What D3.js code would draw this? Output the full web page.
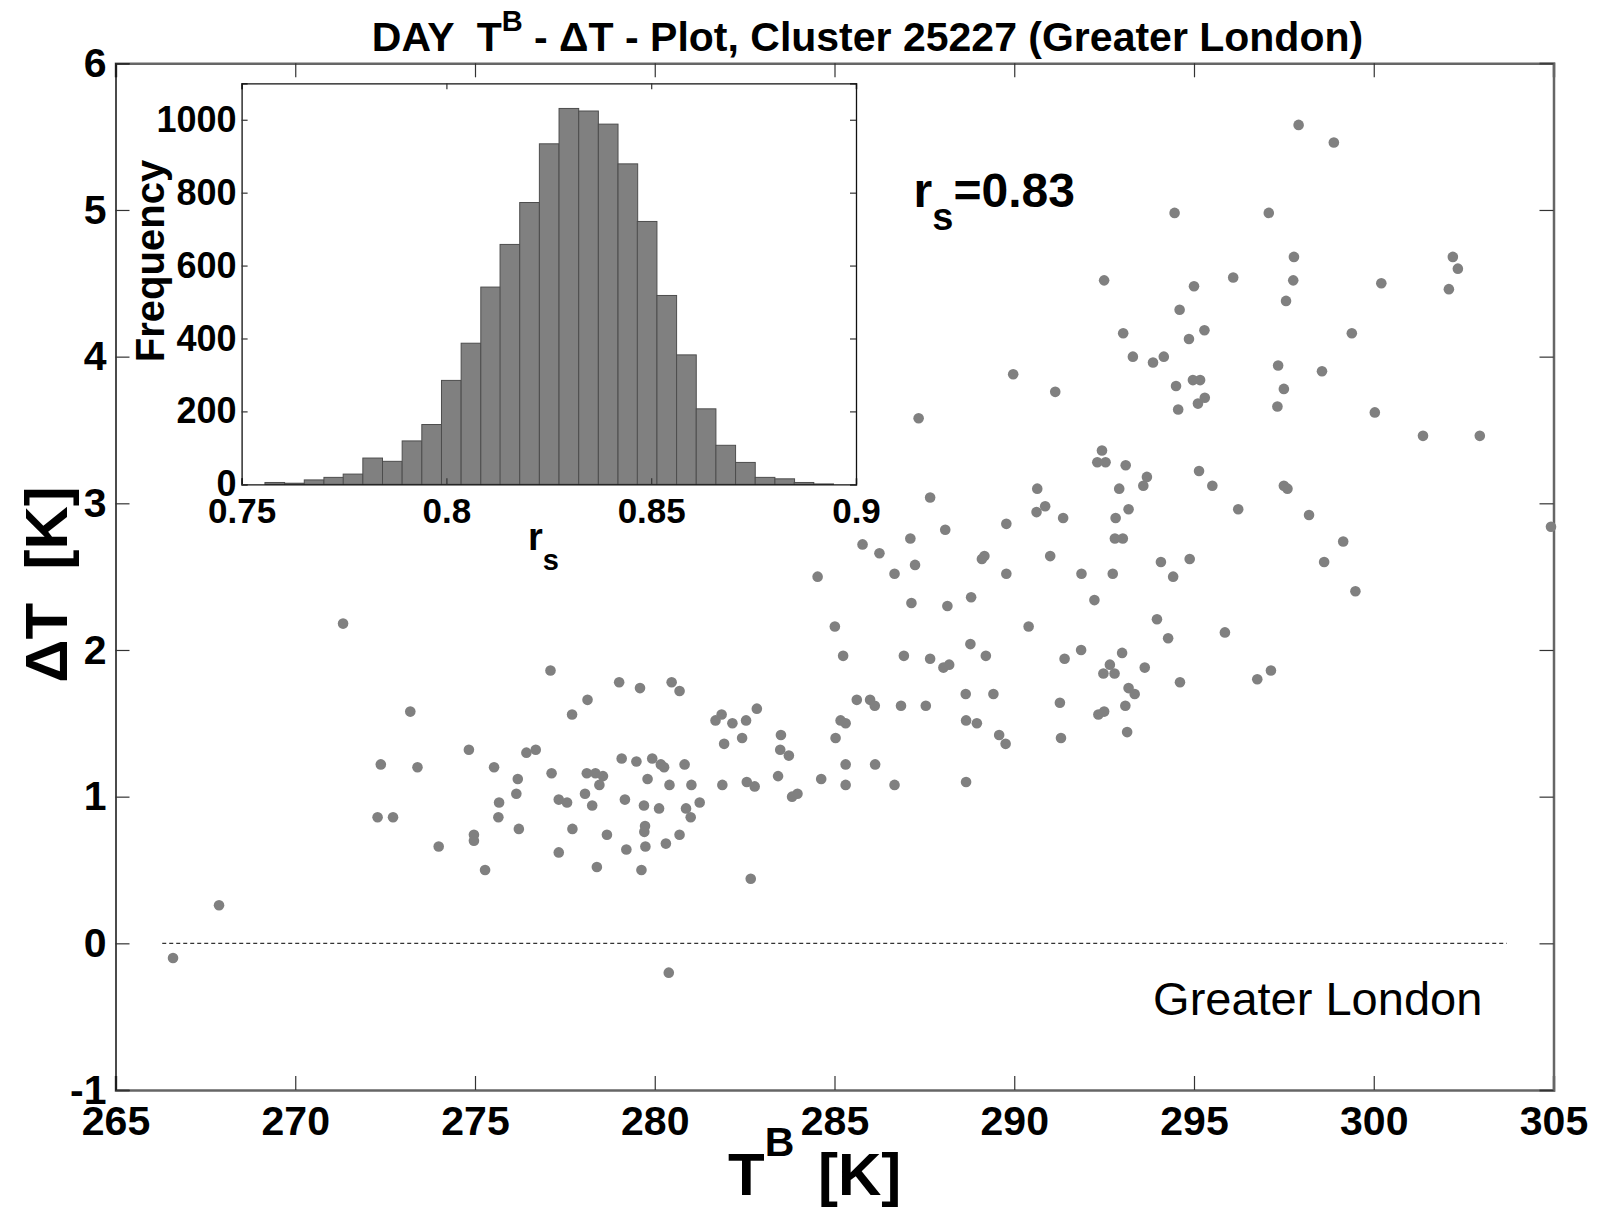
<!DOCTYPE html>
<html>
<head>
<meta charset="utf-8">
<script src="https://cdn.jsdelivr.net/npm/d3@7"></script>
<style>
    body { margin: 0; background: #fff; }
    svg { display: block; }
    text { white-space: pre; }
</style>
</head>
<body>
<div id="chart"></div>
<script>
///////////// DATA
// scatter: brightness temperature T^B [K] vs. delta T [K]
var tbValues = [
    271.33, 267.88, 266.60, 273.20, 272.38, 273.40, 272.29, 272.72, 273.99, 274.83,
    274.97, 274.97, 275.28, 275.53, 275.67, 275.65, 276.19, 276.15, 276.22, 276.43,
    276.69, 277.10, 277.13, 277.33, 277.56, 277.71, 277.33, 277.70, 278.13, 278.06,
    278.11, 278.35, 278.56, 278.46, 278.26, 278.67, 278.39, 279.01, 279.59, 279.08,
    279.49, 279.17, 279.21, 279.63, 279.70, 279.80, 279.93, 280.17, 280.26, 279.73,
    279.71, 279.74, 280.12, 280.31, 280.41, 280.47, 280.69, 280.83, 281.02, 280.87,
    281.00, 280.69, 280.39, 281.25, 281.69, 281.86, 282.16, 282.54, 282.84, 281.93,
    282.43, 283.51, 283.49, 283.73, 281.88, 282.56, 282.78, 283.43, 283.82, 283.97,
    284.63, 282.67, 284.53, 285.01, 285.24, 285.03, 285.17, 285.31, 285.31, 285.31,
    285.62, 285.99, 286.12, 286.13, 286.67, 285.78, 286.25, 286.67, 286.85, 286.93,
    287.11, 287.24, 287.34, 287.14, 287.54, 287.66, 287.66, 288.03, 288.19, 288.08,
    288.14, 288.65, 288.66, 288.66, 288.78, 288.80, 288.96, 289.10, 289.17, 289.21,
    289.42, 289.58, 289.76, 289.78, 289.78, 289.97, 290.40, 290.64, 290.62, 290.86,
    291.00, 291.14, 291.36, 291.40, 291.27, 291.30, 291.87, 291.86, 292.23, 292.34,
    292.50, 292.44, 292.31, 292.54, 292.50, 292.66, 292.48, 292.79, 292.80, 293.02,
    292.82, 292.92, 292.74, 293.00, 293.03, 293.10, 293.18, 293.18, 293.35, 293.09,
    293.14, 293.30, 293.59, 293.69, 293.63, 293.86, 293.97, 294.08, 294.16, 294.28,
    294.42, 294.46, 294.50, 294.56, 294.60, 294.61, 294.86, 294.88, 294.97, 295.17,
    295.00, 295.14, 295.30, 295.11, 295.29, 295.51, 295.86, 296.09, 296.23, 296.76,
    297.14, 297.08, 297.34, 297.32, 297.50, 297.50, 297.60, 297.56, 297.76, 297.78,
    297.91, 298.20, 298.56, 298.62, 298.89, 299.15, 299.39, 299.49, 300.03, 300.21,
    301.37, 302.20, 302.34, 302.09, 302.95, 304.93
];
var dtValues = [
    2.18, 0.26, -0.10, 1.58, 1.22, 1.20, 0.86, 0.86, 0.66, 1.32,
    0.74, 0.70, 0.50, 1.20, 0.96, 0.86, 1.12, 1.02, 0.78, 1.30,
    1.32, 1.86, 1.16, 0.98, 0.96, 0.78, 0.62, 1.56, 1.66, 1.02,
    1.16, 1.16, 1.14, 1.08, 0.94, 0.74, 0.52, 1.78, 1.74, 1.26,
    1.24, 0.98, 0.64, 0.50, 0.94, 1.12, 1.26, 1.22, 1.20, 0.80,
    0.76, 0.66, 0.92, 0.68, 1.08, 1.78, 1.72, 1.22, 1.08, 0.92,
    0.86, 0.74, -0.20, 0.96, 1.52, 1.56, 1.50, 1.52, 1.60, 1.36,
    1.40, 1.42, 1.32, 1.28, 1.08, 1.10, 1.07, 1.14, 1.00, 1.02,
    1.12, 0.44, 2.50, 2.16, 1.96, 1.40, 1.52, 1.50, 1.22, 1.08,
    1.66, 1.66, 1.62, 1.22, 1.08, 2.72, 2.66, 2.52, 1.62, 1.96,
    2.76, 2.58, 3.58, 2.32, 1.62, 3.04, 1.94, 1.88, 1.90, 2.82,
    2.30, 1.70, 1.52, 1.10, 2.04, 2.36, 1.50, 2.62, 2.64, 1.96,
    1.70, 1.42, 1.36, 2.86, 2.52, 3.88, 2.16, 3.10, 2.94, 2.98,
    2.64, 3.76, 2.90, 1.94, 1.64, 1.40, 2.52, 2.00, 2.34, 1.56,
    1.58, 3.36, 3.28, 3.28, 4.52, 1.90, 1.84, 1.84, 2.76, 2.76,
    2.90, 3.10, 2.52, 1.98, 4.16, 3.26, 2.96, 1.74, 1.70, 1.62,
    1.44, 4.00, 3.12, 3.18, 1.88, 3.96, 2.21, 2.60, 4.00, 2.08,
    2.50, 4.98, 3.80, 3.64, 4.32, 1.78, 4.12, 2.62, 3.84, 3.84,
    4.48, 3.22, 3.72, 3.68, 4.18, 3.12, 2.12, 4.54, 2.96, 1.80,
    1.86, 4.98, 3.94, 3.66, 3.78, 3.12, 3.10, 4.38, 4.52, 4.68,
    5.58, 2.92, 3.90, 2.60, 5.46, 2.74, 4.16, 2.40, 3.62, 4.50,
    3.46, 4.68, 4.60, 4.46, 3.46, 2.84
];
var xTicks = [265, 270, 275, 280, 285, 290, 295, 300, 305];
var yTicks = [-1, 0, 1, 2, 3, 4, 5, 6];
var zeroLine = [266.3, 303.7];

// inset: bootstrap distribution of r_s
var rsBinCenters = [
    0.7581, 0.7629, 0.7677, 0.7725, 0.7772, 0.7820, 0.7868, 0.7916, 0.7964, 0.8012,
    0.8060, 0.8108, 0.8155, 0.8203, 0.8251, 0.8299, 0.8347, 0.8395, 0.8443, 0.8490,
    0.8538, 0.8586, 0.8634, 0.8682, 0.8730, 0.8778, 0.8826, 0.8873, 0.8921, 0.8969
];
var rsCounts = [
    5, 3, 12, 19, 28, 72, 63, 119, 164, 285,
    387, 541, 658, 773, 934, 1031, 1024, 988, 879, 721,
    518, 355, 207, 107, 60, 19, 15, 5, 1, 0
];
var rsTicks = [0.75, 0.8, 0.85, 0.9];
var countTicks = [0, 200, 400, 600, 800, 1000];

var titleMain = 'DAY  T';
var titleSup = 'B';
var titleRest = ' - \u0394T - Plot, Cluster 25227 (Greater London)';
var rsValueText = '=0.83';
var regionName = 'Greater London';


///////////// CHART
var font = '"Liberation Sans", Arial, Helvetica, sans-serif';
var fullwidth = 1603;
var fullheight = 1207;
var margin = { top: 63.3, right: 49.5, bottom: 117, left: 115.5 };

var svg = d3.select('#chart')
    .append('svg')
    .attr('width', fullwidth)
    .attr('height', fullheight)
    .style('font-family', font);

var x = d3.scaleLinear().domain([265, 305]).range([margin.left, fullwidth - margin.right]);
var y = d3.scaleLinear().domain([-1, 6]).range([fullheight - margin.bottom, margin.top]);

// plain hyphen minus like the original (d3 uses the unicode minus)
var plain = function(d) { return String(d); };

function styleAxis(g, size) {
    g.attr('font-family', font)
        .attr('font-size', size)
        .attr('font-weight', 'bold');
    g.selectAll('text').attr('fill', '#000');
    g.selectAll('.tick line').attr('stroke', '#333').attr('stroke-width', 1.2);
}

// frame + ticks of main plot
var gx = svg.append('g')
    .attr('transform', 'translate(0,' + y(-1) + ')')
    .call(d3.axisBottom(x).tickValues(xTicks).tickSize(-14).tickPadding(16).tickFormat(plain));
styleAxis(gx, 41);
gx.select('.domain').attr('stroke', '#666').attr('stroke-width', 2.5);

var gxTop = svg.append('g')
    .attr('transform', 'translate(0,' + y(6) + ')')
    .call(d3.axisTop(x).tickValues(xTicks).tickSize(-14).tickFormat(''));
styleAxis(gxTop, 10);
gxTop.select('.domain').attr('stroke', '#666').attr('stroke-width', 2.5);

var gyRight = svg.append('g')
    .attr('transform', 'translate(' + x(305) + ',0)')
    .call(d3.axisRight(y).tickValues(yTicks).tickSize(-14).tickFormat(''));
styleAxis(gyRight, 10);
gyRight.select('.domain').attr('stroke', '#666').attr('stroke-width', 2.5);

var gy = svg.append('g')
    .attr('transform', 'translate(' + x(265) + ',0)')
    .call(d3.axisLeft(y).tickValues(yTicks).tickSize(-14).tickPadding(9).tickFormat(plain));
styleAxis(gy, 41);
gy.select('.domain').attr('stroke', '#111').attr('stroke-width', 1.5);

// zero line
svg.append('line')
    .attr('x1', x(zeroLine[0]))
    .attr('x2', x(zeroLine[1]))
    .attr('y1', y(0))
    .attr('y2', y(0))
    .attr('stroke', '#333')
    .attr('stroke-width', 1.2)
    .attr('stroke-dasharray', '4,3');

// points
svg.append('g')
    .selectAll('circle')
    .data(tbValues)
    .enter()
    .append('circle')
    .attr('cx', function(d) { return x(d); })
    .attr('cy', function(d, i) { return y(dtValues[i]); })
    .attr('r', 5.3)
    .attr('fill', '#808080');

// annotations
var rsText = svg.append('text')
    .attr('x', x(287.2))
    .attr('y', y(5.02))
    .attr('font-weight', 'bold')
    .attr('font-size', 48);
rsText.append('tspan').text('r');
rsText.append('tspan').attr('font-size', 38).attr('dy', 23).text('s');
rsText.append('tspan').attr('dy', -23).text(rsValueText);

svg.append('text')
    .attr('x', x(303.02))
    .attr('y', y(-0.489))
    .attr('text-anchor', 'end')
    .attr('font-size', 47)
    .text(regionName);

// title
var title = svg.append('text')
    .attr('x', 867.5)
    .attr('y', 51)
    .attr('text-anchor', 'middle')
    .attr('font-weight', 'bold')
    .attr('font-size', 41);
title.append('tspan').text(titleMain);
title.append('tspan').attr('font-size', 29).attr('dy', -20).text(titleSup);
title.append('tspan').attr('dy', 20).text(titleRest);

// axis titles
var xl = svg.append('text')
    .attr('x', 728)
    .attr('y', 1195)
    .attr('font-weight', 'bold')
    .attr('font-size', 60);
xl.append('tspan').text('T');
xl.append('tspan').attr('font-size', 41).attr('dy', -39).text('B');
xl.append('tspan').attr('x', 818).attr('dy', 39).text('[K]');

svg.append('text')
    .attr('transform', 'translate(67,584.5) rotate(-90)')
    .attr('text-anchor', 'middle')
    .attr('font-weight', 'bold')
    .attr('font-size', 60)
    .text('\u0394T  [K]');


///////////// INSET
var ix = d3.scaleLinear().domain([0.75, 0.9]).range([241.6, 856]);
var iy = d3.scaleLinear().domain([0, 1100]).range([484.3, 83.3]);
var binW = rsBinCenters[1] - rsBinCenters[0];

var inset = svg.append('g');
inset.append('rect')
    .attr('x', ix(0.75))
    .attr('y', iy(1100))
    .attr('width', ix(0.9) - ix(0.75))
    .attr('height', iy(0) - iy(1100))
    .attr('fill', '#fff');

inset.append('g')
    .selectAll('rect')
    .data(rsCounts)
    .enter()
    .append('rect')
    .attr('x', function(d, i) { return ix(rsBinCenters[i] - binW / 2); })
    .attr('width', function(d, i) { return ix(rsBinCenters[i] + binW / 2) - ix(rsBinCenters[i] - binW / 2); })
    .attr('y', function(d) { return iy(d); })
    .attr('height', function(d) { return iy(0) - iy(d); })
    .attr('fill', '#808080')
    .attr('stroke', '#4d4d4d')
    .attr('stroke-width', 1);

var ixAxis = inset.append('g')
    .attr('transform', 'translate(0,' + iy(0) + ')')
    .call(d3.axisBottom(ix).tickValues(rsTicks).tickSize(-6).tickPadding(14)
        .tickFormat(function(d) { return d3.format('~g')(d); }));
styleAxis(ixAxis, 35);

var ixTop = inset.append('g')
    .attr('transform', 'translate(0,' + iy(1100) + ')')
    .call(d3.axisTop(ix).tickValues(rsTicks).tickSize(-6).tickFormat(''));
styleAxis(ixTop, 10);

var iyAxis = inset.append('g')
    .attr('transform', 'translate(' + ix(0.75) + ',0)')
    .call(d3.axisLeft(iy).tickValues(countTicks).tickSize(-6).tickPadding(5).tickFormat(plain));
styleAxis(iyAxis, 36);

var iyRight = inset.append('g')
    .attr('transform', 'translate(' + ix(0.9) + ',0)')
    .call(d3.axisRight(iy).tickValues(countTicks).tickSize(-6).tickFormat(''));
styleAxis(iyRight, 10);

inset.selectAll('.domain').attr('stroke', '#111').attr('stroke-width', 1.3);

var il = inset.append('text')
    .attr('x', 528)
    .attr('y', 550)
    .attr('font-weight', 'bold')
    .attr('font-size', 38);
il.append('tspan').text('r');
il.append('tspan').attr('font-size', 29).attr('dy', 20).text('s');

inset.append('text')
    .attr('transform', 'translate(163.5,261) rotate(-90)')
    .attr('text-anchor', 'middle')
    .attr('font-weight', 'bold')
    .attr('font-size', 40)
    .text('Frequency');
</script>
</body>
</html>
